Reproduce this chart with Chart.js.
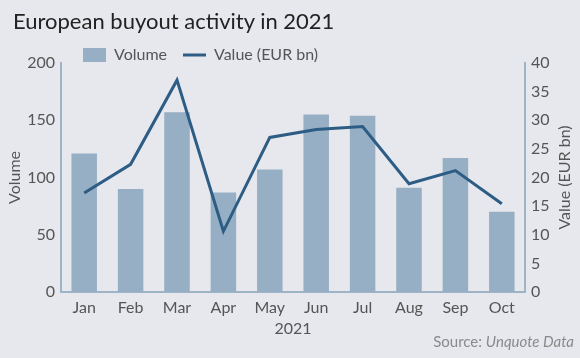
<!DOCTYPE html>
<html>
<head>
<meta charset="utf-8">
<script src="https://cdn.jsdelivr.net/npm/chart.js@4.4.0/dist/chart.umd.min.js"></script>
<style>
  html, body { margin: 0; padding: 0; background: #e6e8ee; }
  #wrap { position: relative; width: 580px; height: 358px; overflow: hidden; background: #e6e8ee; }
  #title { position: absolute; left: 13px; top: 7px; font: 22px Lato, sans-serif; color: #222; white-space: nowrap; }
  #source { position: absolute; right: 6px; top: 332px; font: 15px Lato, sans-serif; color: #8a8a8a; white-space: nowrap; }
  canvas { position: absolute; left: 0; top: 0; }
</style>
</head>
<body>
<div id="wrap">
  <canvas id="c" width="580" height="358"></canvas>
  <div id="title">European buyout activity in 2021</div>
  <div id="source">Source: <i>Unquote Data</i></div>
</div>
<script>
const categories = ["Jan", "Feb", "Mar", "Apr", "May", "Jun", "Jul", "Aug", "Sep", "Oct"];
const volume = [121, 90, 157, 87, 107, 155, 154, 91, 117, 70];
const valueEURbn = [17.3, 22.3, 37.0, 10.6, 27.0, 28.4, 28.9, 18.9, 21.2, 15.4];
const volumeTicks = [0, 50, 100, 150, 200];
const valueTicks = [0, 5, 10, 15, 20, 25, 30, 35, 40];
const xTitle = "2021";
const leftTitle = "Volume";
const rightTitle = "Value (EUR bn)";

const FONT = "Lato";
const TICK_COLOR = "#555";
const AXIS_COLOR = "#9fb3c6";

const rightTitlePlugin = {
  id: "rightTitle",
  afterLayout(chart) {
    // nudge the legend so it starts a little inside the plot area, as in the reference
    if (chart.legend) { chart.legend.left += 6; chart.legend.right += 6; }
  },
  afterDraw(chart) {
    const ctx = chart.ctx;
    const s = chart.scales.y1;
    ctx.save();
    ctx.font = "16px " + FONT;
    ctx.fillStyle = TICK_COLOR;
    ctx.textAlign = "center";
    ctx.textBaseline = "middle";
    ctx.translate(565, (s.top + s.bottom) / 2);
    ctx.rotate(-Math.PI / 2);
    ctx.fillText(rightTitle, 0, 0);
    ctx.restore();
  }
};

new Chart(document.getElementById("c"), {
  data: {
    labels: categories,
    datasets: [
      {
        type: "bar",
        label: "Volume",
        data: volume,
        yAxisID: "y",
        backgroundColor: "#97afc4",
        borderWidth: 0,
        barPercentage: 0.55,
        categoryPercentage: 1.0,
        pointStyle: "rect",
        order: 1
      },
      {
        type: "line",
        label: "Value (EUR bn)",
        data: valueEURbn,
        yAxisID: "y1",
        borderColor: "#2d5d85",
        backgroundColor: "#2d5d85",
        borderWidth: 3,
        pointRadius: 0,
        pointHoverRadius: 0,
        tension: 0,
        borderJoinStyle: "miter",
        pointStyle: "line",
        order: 0
      }
    ]
  },
  options: {
    responsive: false,
    animation: false,
    layout: { padding: { top: 31, left: 0, right: 0, bottom: 20 } },
    plugins: {
      tooltip: { enabled: false },
      title: { display: false },
      legend: {
        display: true,
        position: "top",
        align: "start",
        fullSize: false,
        maxHeight: 32,
        labels: {
          usePointStyle: true,
          pointStyleWidth: 23,
          boxHeight: 14,
          padding: 16,
          color: TICK_COLOR,
          font: { family: FONT, size: 16 },
          sort: (a, b) => a.datasetIndex - b.datasetIndex
        }
      }
    },
    scales: {
      x: {
        type: "category",
        offset: true,
        grid: { display: false, drawTicks: false },
        border: { display: true, color: AXIS_COLOR, width: 2 },
        ticks: { color: TICK_COLOR, font: { family: FONT, size: 16 }, padding: 6, maxRotation: 0 },
        title: { display: true, text: xTitle, color: TICK_COLOR, font: { family: FONT, size: 16 }, padding: { top: 2, bottom: 0 } },
        afterFit: (s) => { s.height = 46; }
      },
      y: {
        type: "linear",
        position: "left",
        min: 0,
        max: 200,
        grid: { display: false, drawTicks: false },
        border: { display: true, color: AXIS_COLOR, width: 2 },
        afterBuildTicks: (s) => { s.ticks = volumeTicks.map(v => ({ value: v })); },
        ticks: { color: TICK_COLOR, font: { family: FONT, size: 16 }, padding: 6 },
        title: { display: true, text: leftTitle, color: TICK_COLOR, font: { family: FONT, size: 16 }, padding: { top: 5, bottom: 0 } },
        afterFit: (s) => { s.width = 61; }
      },
      y1: {
        type: "linear",
        position: "right",
        min: 0,
        max: 40,
        grid: { display: false, drawTicks: false },
        border: { display: true, color: AXIS_COLOR, width: 2 },
        afterBuildTicks: (s) => { s.ticks = valueTicks.map(v => ({ value: v })); },
        ticks: { color: TICK_COLOR, font: { family: FONT, size: 16 }, padding: 6 },
        title: { display: false },
        afterFit: (s) => { s.width = 55; }
      }
    }
  },
  plugins: [rightTitlePlugin]
});
</script>
</body>
</html>
